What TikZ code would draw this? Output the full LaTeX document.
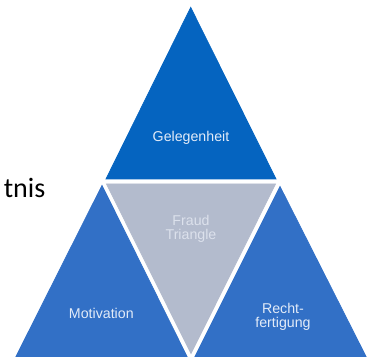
\documentclass[tikz,border=0pt]{standalone}
\usepackage{fontspec}
\setmainfont{Liberation Sans}
\newfontfamily\bodyfont{Carlito}
\definecolor{topblue}{RGB}{5,100,192}
\definecolor{sideblue}{RGB}{50,112,198}
\definecolor{coregray}{RGB}{179,187,205}
\definecolor{labelwhite}{RGB}{226,235,248}
\definecolor{labelgray}{RGB}{220,225,236}
\begin{document}
\begin{tikzpicture}[x=1pt,y=1pt,
  piece/.style={draw=white,line width=0.8pt,line join=miter},
  label/.style={font=\fontsize{14.2}{14.2}\selectfont,text=labelwhite,align=center,inner sep=0pt},
]
\useasboundingbox (0,0) rectangle (367,358);

% corner points of the four triangles
\coordinate (topA) at (190.7,350.5);
\coordinate (topL) at (106,179);
\coordinate (topR) at (276,179);
\coordinate (midL) at (106.5,174);
\coordinate (midR) at (275.5,174);
\coordinate (midB) at (191,4.5);
\coordinate (lftA) at (102,172.5);
\coordinate (lftL) at (16,1.5);
\coordinate (lftR) at (187,1.5);
\coordinate (rgtA) at (280,171.5);
\coordinate (rgtL) at (195,1.5);
\coordinate (rgtR) at (366,1.5);

\fill[piece,topblue] (topA) -- (topL) -- (topR) -- cycle;
\fill[piece,coregray] (midL) -- (midR) -- (midB) -- cycle;
\fill[piece,sideblue] (lftA) -- (lftL) -- (lftR) -- cycle;
\fill[piece,sideblue] (rgtA) -- (rgtL) -- (rgtR) -- cycle;

% captions
\node[label,anchor=base] (opportunity) at (191,216.3) {Gelegenheit};
\node[label,text=labelgray,anchor=center] (core) at (191,129.5) {Fraud\\Triangle};
\node[label,anchor=base] (motive) at (101.3,39) {Motivation};
\node[label,anchor=center] (justify) at (283,41.5) {Recht-\\fertigung};

% surrounding body text
\node[anchor=base east,inner sep=0pt,font=\bodyfont\fontsize{28}{30}\selectfont] (bodytext) at (45.5,160) {tnis};
\end{tikzpicture}
\end{document}
